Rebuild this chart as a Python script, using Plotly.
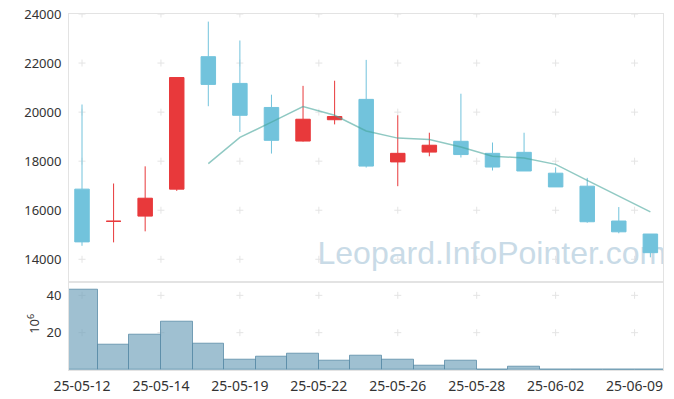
import plotly.graph_objects as go

# ---------------- data ----------------
dates = ["25-05-12", "25-05-13", "25-05-14", "25-05-15", "25-05-16", "25-05-19",
         "25-05-20", "25-05-21", "25-05-22", "25-05-23", "25-05-26", "25-05-27",
         "25-05-28", "25-05-29", "25-05-30", "25-06-02", "25-06-04", "25-06-05",
         "25-06-09"]
opens = [16860, 15550, 15760, 16860, 22260, 21170, 20190, 18820, 19690, 20520,
         17970, 18370, 18810, 18320, 18360, 17510, 16980, 15560, 15030]
highs = [20310, 17090, 17790, 21410, 23690, 22920, 20710, 21070, 21280, 22130,
         19870, 19160, 20750, 18760, 19160, 17750, 17320, 16130, 15030]
lows = [14550, 14690, 15140, 16790, 20240, 19190, 18310, 18800, 19500, 17740,
        16980, 18200, 18150, 17620, 17600, 16950, 15490, 15060, 14080]
closes = [14710, 15550, 16490, 21410, 21130, 19870, 18850, 19710, 19820, 17800,
          18320, 18650, 18270, 17760, 17600, 16950, 15530, 15120, 14270]
ma5 = [None, None, None, None, 17900, 18970, 19590, 20230, 19870, 19230,
       18940, 18880, 18580, 18200, 18130, 17870, 17220, 16590, 15930]
volume_m = [42.9, 13.7, 19.1, 25.9, 14.2, 5.7, 6.9, 8.5, 5.2, 7.4,
            5.3, 2.1, 4.8, 0.4, 2.0, 0.4, 0.4, 0.4, 0.4]

price_ticks = [14000, 16000, 18000, 20000, 22000, 24000]
volume_ticks = [20, 40]
x_tick_pos = [0, 2.5, 5, 7.5, 10, 12.5, 15, 17.5]
x_tick_text = [dates[round(v)] for v in x_tick_pos]
watermark = "Leopard.InfoPointer.com"

idx = list(range(len(dates)))

# ---------------- style ----------------
RED = "#E8393B"
BLUE = "#72C3DC"
BORDER = "#e3e3e3"
GRIDC = "#e4e4e4"
FONT = "Noto Sans"
XR = [-0.412, 18.40]
YR_MAIN = [13086, 24000]
YR_VOL = [0, 47.3]

fig = go.Figure()

# ---- base layers (below the data) ----
fig.add_trace(go.Scatter(
    x=[t for t in x_tick_pos for _ in price_ticks],
    y=[p for _ in x_tick_pos for p in price_ticks],
    mode="markers", xaxis="x2", yaxis="y2", hoverinfo="skip", showlegend=False,
    marker=dict(symbol="cross-thin", size=5, line=dict(color=GRIDC, width=1)),
))
fig.add_trace(go.Scatter(
    x=[t for t in x_tick_pos for _ in volume_ticks],
    y=[p for _ in x_tick_pos for p in volume_ticks],
    mode="markers", xaxis="x", yaxis="y", hoverinfo="skip", showlegend=False,
    marker=dict(symbol="cross-thin", size=5, line=dict(color=GRIDC, width=1)),
))
fig.add_trace(go.Scatter(
    x=[18.50], y=[14135], mode="text", text=[watermark],
    textposition="middle left", xaxis="x2", yaxis="y2", hoverinfo="skip",
    showlegend=False,
    textfont=dict(family="Liberation Sans, Arial, sans-serif",
                  size=32, color="#C9DBE7"),
))

# ---- data layers (overlay subplots, drawn above) ----
fig.add_trace(go.Candlestick(
    x=idx, open=opens, high=highs, low=lows, close=closes,
    xaxis="x3", yaxis="y3", showlegend=False, whiskerwidth=0,
    increasing=dict(line=dict(color=RED, width=1), fillcolor=RED),
    decreasing=dict(line=dict(color=BLUE, width=1), fillcolor=BLUE),
))
fig.add_trace(go.Scatter(
    x=idx, y=ma5, mode="lines", xaxis="x3", yaxis="y3", showlegend=False,
    line=dict(color="rgba(70,165,155,0.6)", width=1.5),
))
fig.add_trace(go.Bar(
    x=idx, y=volume_m, xaxis="x4", yaxis="y4", showlegend=False, width=1,
    marker=dict(color="rgba(110,160,185,0.66)",
                line=dict(color="rgba(90,140,168,0.8)", width=1)),
))

hidden = dict(visible=False, showgrid=False, zeroline=False, automargin=False)
fig.update_layout(
    width=674, height=399,
    margin=dict(l=69, r=11, t=14, b=29, autoexpand=False),
    paper_bgcolor="white", plot_bgcolor="white",
    font=dict(family=FONT, size=13, color="#333333"),
    boxgap=0.345, bargap=0,
    xaxis=dict(domain=[0, 1], anchor="y", range=XR, showgrid=False, zeroline=False,
               automargin=False,
               tickmode="array", tickvals=x_tick_pos, ticktext=x_tick_text,
               tickfont=dict(size=14, color="#333333"),
               ticks="outside", ticklen=3, tickcolor="rgba(0,0,0,0)",
               showline=True, linecolor=BORDER, linewidth=1, mirror=True),
    xaxis2=dict(domain=[0, 1], anchor="y2", range=XR,
                automargin=False,
                showgrid=False, zeroline=False, showticklabels=False,
                showline=True, linecolor=BORDER, linewidth=1, mirror=True),
    xaxis3=dict(overlaying="x2", anchor="y3", range=XR,
                rangeslider=dict(visible=False), **hidden),
    xaxis4=dict(overlaying="x", anchor="y4", range=XR, **hidden),
    yaxis=dict(domain=[0, 0.248], anchor="x", range=YR_VOL, showgrid=False,
               automargin=False,
               zeroline=False, tickmode="array", tickvals=volume_ticks,
               ticks="outside", ticklen=4, tickcolor="rgba(0,0,0,0)",
               showline=True, linecolor=BORDER, linewidth=1, mirror=True),
    yaxis2=dict(domain=[0.248, 1], anchor="x2", range=YR_MAIN, showgrid=False,
                automargin=False,
                zeroline=False, tickmode="array", tickvals=price_ticks,
                tickformat="d",
                ticks="outside", ticklen=4, tickcolor="rgba(0,0,0,0)",
                showline=True, linecolor=BORDER, linewidth=1, mirror=True),
    yaxis3=dict(overlaying="y2", anchor="x3", range=YR_MAIN, **hidden),
    yaxis4=dict(overlaying="y", anchor="x4", range=YR_VOL, **hidden),
    annotations=[dict(
        text="10<sup>6</sup>", xref="paper", yref="paper",
        x=-0.061, y=0.129, xanchor="center", yanchor="middle",
        textangle=-90, showarrow=False, font=dict(size=13, color="#333333"),
    )],
)

fig.write_html("out.html",
               config={"displayModeBar": False},
               post_script="document.body.style.margin='0';document.body.style.padding='0';")
